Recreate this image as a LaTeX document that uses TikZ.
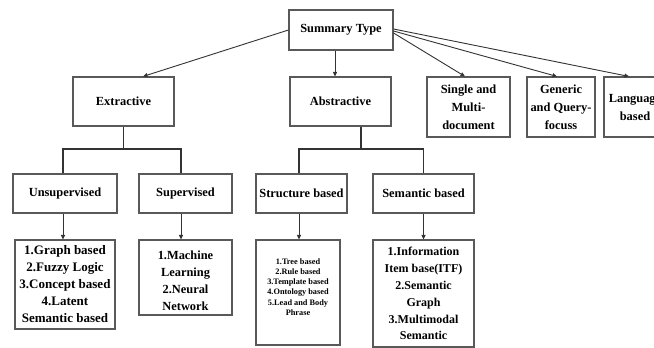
\documentclass[tikz,border=0pt]{standalone}
\usepackage{fontspec}
\setmainfont{Liberation Serif}
\usetikzlibrary{arrows.meta,calc}
\begin{document}
\begin{tikzpicture}[x=1bp,y=-1bp,
  box/.style={draw=black!65, line width=1.1bp, fill=white, inner sep=0pt, align=center,
    font=\bfseries\fontsize{12.4bp}{18bp}\selectfont},
  txt/.style={inner sep=0pt, align=center},
  arr/.style={draw=black!80, line width=0.9bp, -{Triangle[length=4.5bp,width=4bp]}},
  tree/.style={draw=black!80, line width=1.8bp}
]
\clip (0,0) rectangle (654,347);
\fill[white] (0,0) rectangle (654,347);

% top level
\node[box, minimum width=104bp, minimum height=40bp] (sum) at (341,30) {Summary Type};
\node[box, minimum width=101bp, minimum height=49bp] (ext) at (123.5,101.5) {Extractive};
\node[box, minimum width=101bp, minimum height=49bp] (abs) at (340.5,101.5) {Abstractive};
\node[box, minimum width=83bp, minimum height=60bp] (sgl) at (468.5,107) {Single and\\Multi-\\document};
\node[box, minimum width=68bp, minimum height=60bp] (gen) at (561,107) {Generic\\and Query-\\focuss};
\node[box, minimum width=62bp, minimum height=60bp] (lng) at (635,107) {Language\\based};

% second level
\node[box, minimum width=104bp, minimum height=39bp] (uns) at (65,193.5) {Unsupervised};
\node[box, minimum width=93bp, minimum height=39bp] (sup) at (185.5,193.5) {Supervised};
\node[box, minimum width=91bp, minimum height=39bp] (str) at (301.5,193.5) {Structure based};
\node[box, minimum width=101bp, minimum height=39bp] (sem) at (423.5,193.5) {Semantic based};

% lists
\node[box, minimum width=100bp, minimum height=89bp, font=\bfseries\fontsize{13bp}{17bp}\selectfont] (l1) at (65,284.5)
  {1.Graph based\\2.Fuzzy Logic\\3.Concept based\\4.Latent\\Semantic based};
\node[box, minimum width=93bp, minimum height=75bp] (l2) at (185.5,277.5) {};
\node[txt, font=\bfseries\fontsize{12.4bp}{17bp}\selectfont] (l2t) at (185.5,280.5)
  {1.Machine\\Learning\\2.Neural\\Network};
\node[box, minimum width=84bp, minimum height=105bp] (l3) at (298,292.5) {};
\node[txt, font=\bfseries\fontsize{8.3bp}{10.2bp}\selectfont] (l3t) at (298,287)
  {1.Tree based\\2.Rule based\\3.Template based\\4.Ontology based\\5.Lead and Body\\Phrase};
\node[box, minimum width=101bp, minimum height=107bp, font=\bfseries\fontsize{12bp}{16.9bp}\selectfont] (l4) at (423.5,293.5)
  {1.Information\\Item base(ITF)\\2.Semantic\\Graph\\3.Multimodal\\Semantic};

% arrows from Summary Type
\draw[arr] (sum.west) -- ($(ext.north)+(19.5,0)$);
\draw[arr] ($(sum.south)+(-6,0)$) -- ($(abs.north)+(-5.5,0)$);
\draw[arr] ($(sum.east)+(0,3)$) -- ($(sgl.north)+(-3.5,0)$);
\draw[arr] ($(sum.east)+(0,1)$) -- ($(gen.north)+(-4,0)$);
\draw[arr] ($(sum.east)+(0,-1)$) -- ($(lng.north)+(-6,0)$);

% Extractive tree
\coordinate (eL) at (63,149);
\coordinate (eR) at (181,149);
\draw[tree] (ext.south) -- (ext.south |- eL);
\draw[tree] (eL |- uns.north) -- (eL) -- (eR) -- (eR |- sup.north);

% Abstractive tree
\coordinate (aL) at (299,149);
\coordinate (aM) at (361,149);
\coordinate (aR) at (423.5,149);
\draw[tree] (aM |- abs.south) -- (aM);
\draw[tree] (aL |- str.north) -- (aL) -- (aR) -- (aR |- sem.north);

% arrows to lists
\draw[arr] (uns.south -| eL) -- (l1.north -| eL);
\draw[arr] (sup.south -| eR) -- (l2.north -| eR);
\draw[arr] (str.south -| aL) -- (l3.north -| aL);
\draw[arr] (sem.south -| aR) -- (l4.north -| aR);
\end{tikzpicture}
\end{document}
